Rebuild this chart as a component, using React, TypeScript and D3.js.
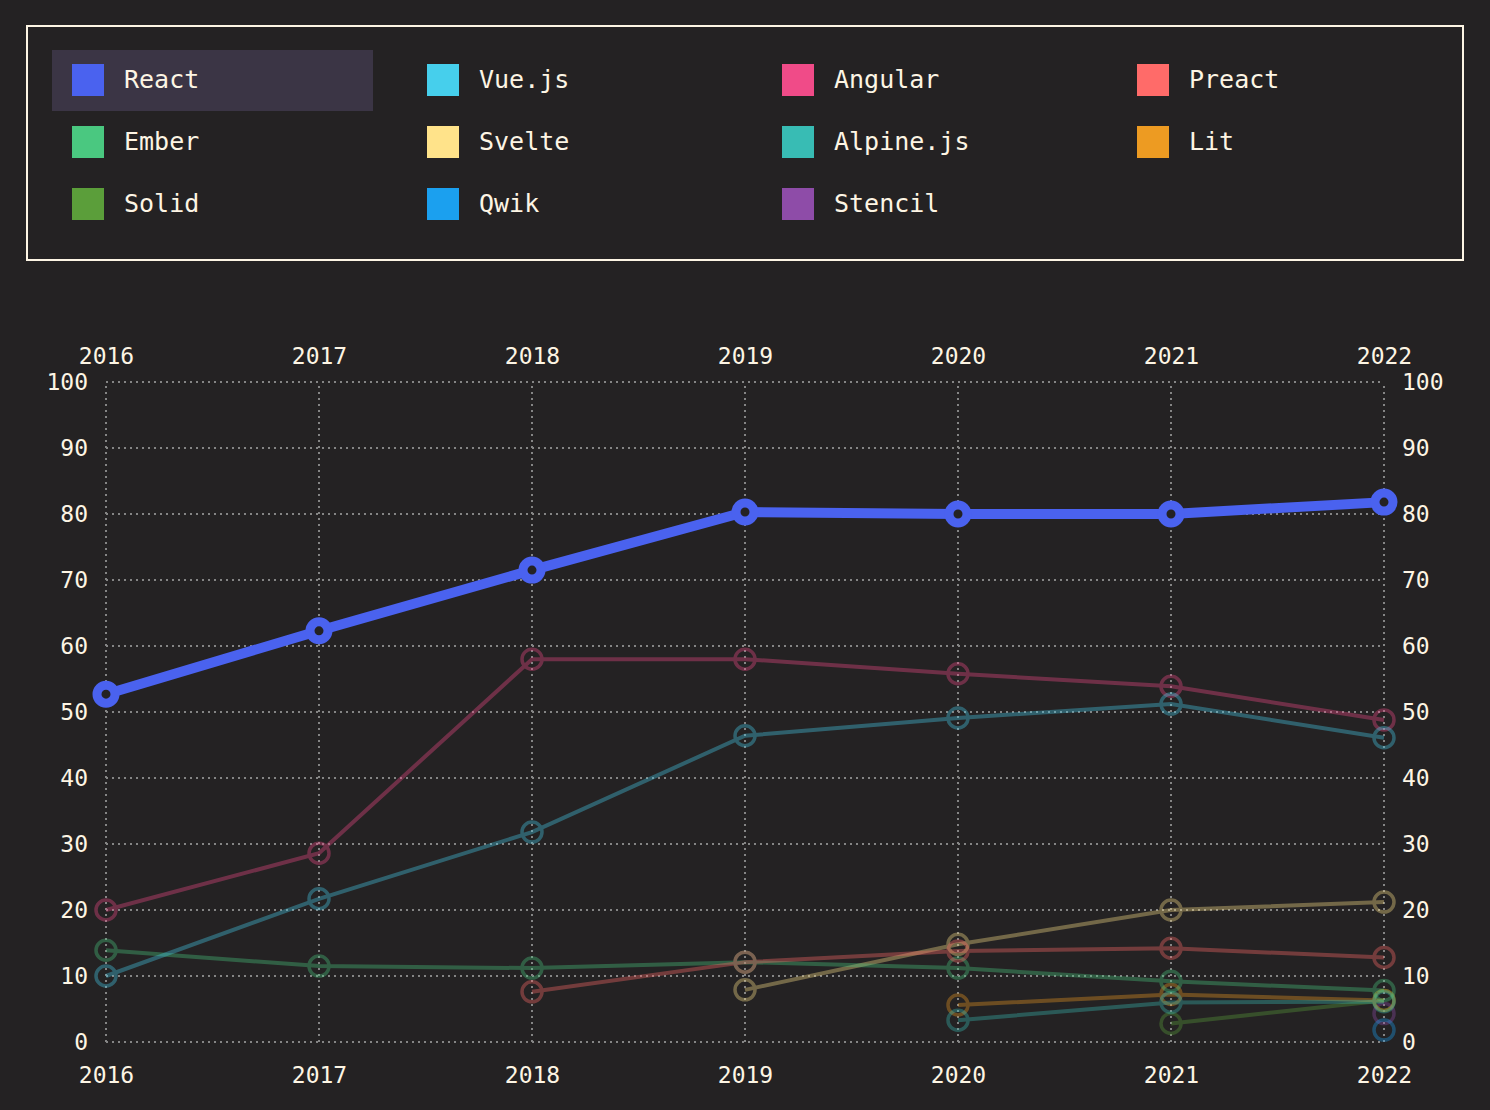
import { useEffect, useRef } from "react";
import { axisBottom, axisLeft, axisRight, axisTop, line, scaleLinear, scalePoint, select } from "d3";

const years = [2016, 2017, 2018, 2019, 2020, 2021, 2022];
const yTicks = [0, 10, 20, 30, 40, 50, 60, 70, 80, 90, 100];

const react = [52.7, 62.3, 71.5, 80.3, 80, 80, 81.8];
const vue = [10, 21.7, 31.8, 46.4, 49.1, 51.2, 46.1];
const angular = [20, 28.6, 58, 58, 55.8, 53.9, 48.8];
const preact = [null, null, 7.6, 12.1, 13.8, 14.2, 12.8];
const ember = [13.9, 11.5, 11.2, 12.1, 11.2, 9.2, 7.8];
const svelte = [null, null, null, 7.9, 14.8, 20, 21.2];
const alpine = [null, null, null, null, 3.3, 6, 6.1];
const lit = [null, null, null, null, 5.6, 7.2, 6.3];
const solid = [null, null, null, null, null, 2.8, 6.3];
const qwik = [null, null, null, null, null, null, 1.8];
const stencil = [null, null, null, null, null, null, 4.3];

const series = [
  { name: "React", color: "#4a62ef", values: react },
  { name: "Vue.js", color: "#46cfec", values: vue },
  { name: "Angular", color: "#f04b88", values: angular },
  { name: "Preact", color: "#ff6b69", values: preact },
  { name: "Ember", color: "#4ac880", values: ember },
  { name: "Svelte", color: "#ffe38a", values: svelte },
  { name: "Alpine.js", color: "#38bcb4", values: alpine },
  { name: "Lit", color: "#ed9b22", values: lit },
  { name: "Solid", color: "#5b9e3a", values: solid },
  { name: "Qwik", color: "#1ba0ef", values: qwik },
  { name: "Stencil", color: "#8e4ca8", values: stencil },
];

const BG = "#242223";
const INK = "#fdf5e4";
const FONT = "'DejaVu Sans Mono', 'Liberation Mono', monospace";

export default function App() {
  const svgRef = useRef<SVGSVGElement | null>(null);

  useEffect(() => {
    document.body.style.margin = "0";
    document.body.style.background = BG;

    const svg = select(svgRef.current);
    svg.selectAll("*").remove();

    // legend
    const legend = svg.append("g");
    legend
      .append("rect")
      .attr("x", 27)
      .attr("y", 26)
      .attr("width", 1436)
      .attr("height", 234)
      .attr("fill", "none")
      .attr("stroke", INK)
      .attr("stroke-width", 2);

    series.forEach((s, i) => {
      const col = i % 4;
      const row = Math.floor(i / 4);
      const item = legend
        .append("g")
        .attr("transform", `translate(${52 + col * 355},${50 + row * 62})`);
      if (s.name === "React") {
        item.append("rect").attr("width", 321).attr("height", 61).attr("fill", "#3b3545");
      }
      item
        .append("rect")
        .attr("x", 20)
        .attr("y", 14)
        .attr("width", 32)
        .attr("height", 32)
        .attr("fill", s.color);
      item
        .append("text")
        .attr("x", 72)
        .attr("y", 29)
        .attr("dy", "0.35em")
        .attr("fill", INK)
        .style("font-family", FONT)
        .style("font-size", "25px")
        .text(s.name);
    });

    // chart
    const margin = { left: 106, right: 106, top: 382, bottom: 68 };
    const width = 1490;
    const height = 1110;

    const x = scalePoint<number>()
      .domain(years)
      .range([margin.left, width - margin.right]);
    const y = scaleLinear()
      .domain([0, 100])
      .range([height - margin.bottom, margin.top]);

    const grid = svg.append("g");
    grid
      .selectAll(".hgrid")
      .data(yTicks)
      .enter()
      .append("line")
      .attr("x1", margin.left)
      .attr("x2", width - margin.right)
      .attr("y1", (d) => y(d))
      .attr("y2", (d) => y(d));
    grid
      .selectAll(".vgrid")
      .data(years)
      .enter()
      .append("line")
      .attr("x1", (d) => x(d) || 0)
      .attr("x2", (d) => x(d) || 0)
      .attr("y1", y(0))
      .attr("y2", y(100));
    grid
      .selectAll("line")
      .attr("stroke", "#858585")
      .attr("stroke-width", 2)
      .attr("stroke-dasharray", "2 4");

    const styleAxis = (g: any) => {
      g.select(".domain").remove();
      g.selectAll(".tick line").remove();
      g.selectAll(".tick text")
        .attr("fill", INK)
        .style("font-family", FONT)
        .style("font-size", "23px");
    };

    svg
      .append("g")
      .attr("transform", `translate(0,${y(100) - 18})`)
      .call(axisTop(x).tickSize(0).tickPadding(0).tickFormat((d) => String(d)))
      .call(styleAxis);
    svg
      .append("g")
      .attr("transform", `translate(0,${y(0) + 25})`)
      .call(axisBottom(x).tickSize(0).tickPadding(0).tickFormat((d) => String(d)))
      .call(styleAxis);
    svg
      .append("g")
      .attr("transform", `translate(${margin.left - 18},0)`)
      .call(axisLeft(y).tickValues(yTicks).tickSize(0).tickPadding(0))
      .call(styleAxis);
    svg
      .append("g")
      .attr("transform", `translate(${width - margin.right + 18},0)`)
      .call(axisRight(y).tickValues(yTicks).tickSize(0).tickPadding(0))
      .call(styleAxis);

    const lineGen = line<{ year: number; value: number | null }>()
      .defined((d) => d.value !== null)
      .x((d) => x(d.year) || 0)
      .y((d) => y(d.value as number));

    const drawOrder = [...series].reverse();
    drawOrder.forEach((s) => {
      const focus = s.name === "React";
      const pts = years.map((year, i) => ({ year, value: s.values[i] }));
      const g = svg.append("g").attr("opacity", focus ? 1 : 0.36);
      g.append("path")
        .datum(pts)
        .attr("d", lineGen)
        .attr("fill", "none")
        .attr("stroke", s.color)
        .attr("stroke-width", focus ? 10 : 4);
      g.selectAll("circle")
        .data(pts.filter((p) => p.value !== null))
        .enter()
        .append("circle")
        .attr("cx", (d) => x(d.year) || 0)
        .attr("cy", (d) => y(d.value as number))
        .attr("r", focus ? 9 : 10)
        .attr("fill", focus ? BG : "none")
        .attr("stroke", s.color)
        .attr("stroke-width", focus ? 9 : 3.5);
    });
  }, []);

  return (
    <svg
      ref={svgRef}
      width={1490}
      height={1110}
      style={{ display: "block", background: BG }}
    ></svg>
  );
}
